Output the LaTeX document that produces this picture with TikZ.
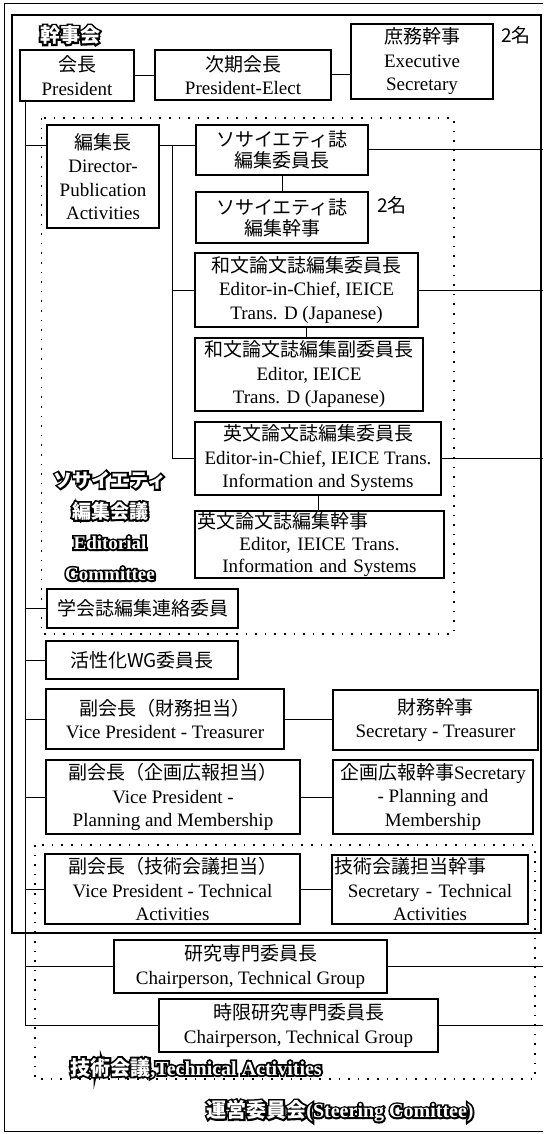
\documentclass[tikz,border=0pt]{standalone}
\usepackage{fontspec}
\setmainfont{Liberation Serif}
\newfontfamily\jp{Noto Sans CJK JP}
\usetikzlibrary{calc}
\newcommand\outl[1]{\leavevmode\rlap{\special{pdf:literal direct 2 Tr 3.6 w 0 G}#1\special{pdf:literal direct 0 Tr}}\textcolor{white}{#1}}
\begin{document}
\begin{tikzpicture}[x=1pt,y=-1pt,
  box/.style={draw, line width=1.1pt, inner sep=0pt, align=center, font=\fontsize{19}{23.5}\selectfont},
  plain/.style={inner sep=0pt, font=\fontsize{19}{23}\selectfont},
  conn/.style={line width=1pt},
  dotbox/.style={line width=1.4pt, dash pattern=on 1.6pt off 8pt},
  lbl/.style={font=\bfseries\fontsize{20}{30}\selectfont, inner sep=0pt, align=center}]
\fill[white] (0,0) rectangle (543,1134);
\useasboundingbox (0,0) rectangle (543,1134);
\clip (0,0) rectangle (543,1134);
% frames
\draw[line width=1pt] (4,4) rectangle (548,1131);
\draw[line width=1.2pt] (12,15) rectangle (541,933);
\draw[dotbox] (41.5,118) rectangle (454,634);
\draw[dotbox] (35,845) rectangle (535,1079);
% nodes
\node[box, minimum width=114pt, minimum height=51pt] (president) at (77,75.5) {{\jp 会長}\\President};
\node[box, minimum width=176pt, minimum height=50pt] (elect) at (243,75) {{\jp 次期会長}\\President-Elect};
\node[box, minimum width=142pt, minimum height=75pt] (execsec) at (422,61.5) {{\jp 庶務幹事}\\Executive\\Secretary};
\node[plain] (nA) at (516,35) {\jp 2名};
\node[box, minimum width=112pt, minimum height=103pt] (editor) at (103,176.5) {{\jp 編集長}\\Director-\\Publication\\Activities};
\node[box, minimum width=172pt, minimum height=50pt, font=\fontsize{19}{21}\selectfont] (socchief) at (282,150) {{\jp ソサイエティ誌}\\{\jp 編集委員長}};
\node[box, minimum width=172pt, minimum height=51pt, font=\fontsize{19}{21}\selectfont] (socsec) at (282,217.5) {{\jp ソサイエティ誌}\\{\jp 編集幹事}};
\node[plain] (nB) at (392,205) {\jp 2名};
\node[box, minimum width=223pt, minimum height=74pt] (wachief) at (306.5,290) {{\jp 和文論文誌編集委員長}\\Editor-in-Chief, IEICE\\Trans. D (Japanese)};
\node[box, minimum width=228pt, minimum height=73pt] (wavice) at (309,374.5) {{\jp 和文論文誌編集副委員長}\\Editor, IEICE\\Trans. D (Japanese)};
\node[box, minimum width=246pt, minimum height=73pt] (enchief) at (318,458.5) {{\jp 英文論文誌編集委員長}\\Editor-in-Chief, IEICE Trans.\\Information and Systems};
\node[box, minimum width=249pt, minimum height=67pt, text width=245pt, font=\fontsize{19}{22}\selectfont] (ensec) at (319.5,544.5) {\makebox[\linewidth][l]{\jp 英文論文誌編集幹事}\\Editor, IEICE Trans.\\Information and Systems};
\node[box, minimum width=191pt, minimum height=39pt] (liaison) at (142.5,608.5) {\jp 学会誌編集連絡委員};
\node[box, minimum width=192pt, minimum height=38pt] (wg) at (142,660) {\jp 活性化WG委員長};
\node[box, minimum width=238pt, minimum height=60pt] (vptr) at (165,719) {{\jp 副会長（財務担当）}\\Vice President - Treasurer};
\node[box, minimum width=205pt, minimum height=60pt] (sectr) at (435.5,720) {{\jp 財務幹事}\\Secretary - Treasurer};
\node[box, minimum width=254pt, minimum height=74pt] (vppl) at (173,797) {{\jp 副会長（企画広報担当）}\\Vice President -\\Planning and Membership};
\node[box, minimum width=200pt, minimum height=74pt] (secpl) at (433,797) {{\jp 企画広報幹事}Secretary\\- Planning and\\Membership};
\node[box, minimum width=255pt, minimum height=70pt] (vptech) at (172.5,889) {{\jp 副会長（技術会議担当）}\\Vice President - Technical\\Activities};
\node[box, minimum width=196pt, minimum height=69pt, text width=192pt] (sectech) at (430,889.5) {\makebox[\linewidth][l]{\jp 技術会議担当幹事}\\Secretary - Technical\\Activities};
\node[box, minimum width=273pt, minimum height=53pt] (tg) at (250.5,966.5) {{\jp 研究専門委員長}\\Chairperson, Technical Group};
\node[box, minimum width=279pt, minimum height=53pt] (tgt) at (298.5,1025.5) {{\jp 時限研究専門委員長}\\Chairperson, Technical Group};
% labels
\node[lbl] (lexec) at (70,35) {\outl{\jp 幹事会}};
\node[lbl, font=\bfseries\fontsize{19}{31}\selectfont] (lsoc) at (110,526) {\outl{\jp ソサイエティ}\\\outl{\jp 編集会議}\\\outl{Editorial}\\\outl{Committee}};
\node[lbl] (ltech) at (196,1068) {\outl{{\jp 技術会議},Technical Activities}};
\node[lbl] (lsteer) at (340,1111) {\outl{{\jp 運営委員会}(Steering Comittee)}};
% connectors
\coordinate (R) at (543,0);
\coordinate (t0) at ($(president.south west)+(6,0)$);
\draw[conn] (president.east) -- (president.east -| elect.west);
\draw[conn] (elect.east) -- (elect.east -| execsec.west);
\draw[conn] (t0) -- (t0 |- tgt.west) -- (tgt.west);
\coordinate (eb) at ($(editor.north west)!0.2!(editor.south west)$);
\draw[conn] (t0 |- eb) -- (eb);
\coordinate (ebr) at ($(editor.north east)!0.2!(editor.south east)$);
\coordinate (vtop) at ($(ebr)+(13,0)$);
\draw[conn] (ebr) -- (socchief.west |- ebr);
\draw[conn] (vtop) -- (vtop |- enchief.west) -- (enchief.west);
\draw[conn] (vtop |- wachief.west) -- (wachief.west);
\draw[conn] (socchief.east) -- (socchief.east -| R);
\draw[conn] (wachief.east) -- (wachief.east -| R);
\draw[conn] (enchief.east) -- (enchief.east -| R);
\draw[conn] (socchief.south) -- (socsec.north);
\draw[conn] (wachief.south) -- (wachief.south |- wavice.north);
\draw[conn] (enchief.south) -- (enchief.south |- ensec.north);
\foreach \n in {liaison, wg, vptr, vppl, vptech, tg}{
  \draw[conn] (t0 |- \n.west) -- (\n.west);
}
\draw[conn] (vptr.east) -- (vptr.east -| sectr.west);
\draw[conn] (vppl.east) -- (vppl.east -| secpl.west);
\draw[conn] (vptech.east) -- (vptech.east -| sectech.west);
\draw[conn] (tg.east) -- (tg.east -| R);
\draw[conn] (tgt.east) -- (tgt.east -| R);
\end{tikzpicture}
\end{document}
